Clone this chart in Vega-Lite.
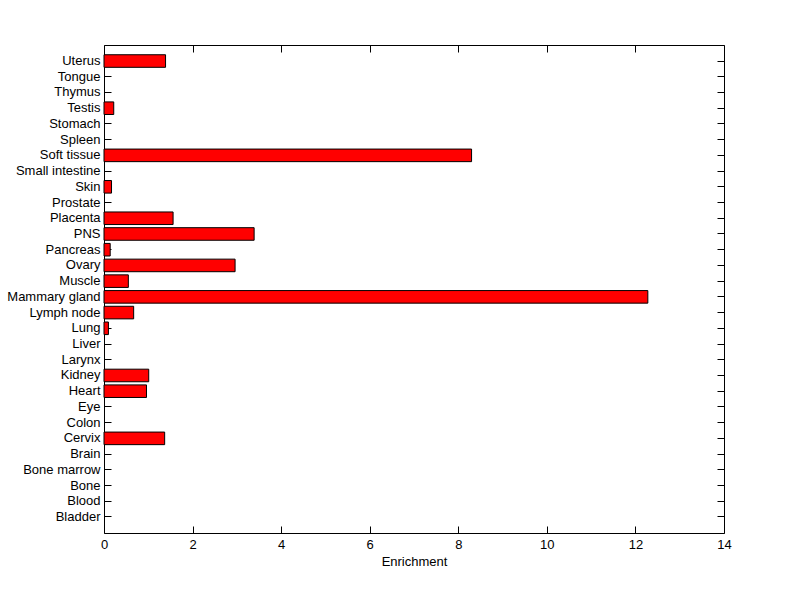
{
  "$schema": "https://vega.github.io/schema/vega-lite/v6.json",
  "autosize": {"type": "none"},
  "padding": {"left": 104, "top": 45, "right": 76, "bottom": 66},
  "width": 620,
  "height": 488,
  "background": "white",
  "config": {
    "view": {"stroke": "black", "strokeWidth": 1},
    "font": "Liberation Sans",
    "axis": {
      "domain": false,
      "grid": false,
      "tickColor": "black",
      "tickSize": -7,
      "labelColor": "black",
      "labelFont": "Liberation Sans",
      "labelFontSize": 13,
      "labelFlush": false,
      "titleFont": "Liberation Sans",
      "titleFontSize": 13,
      "titleFontWeight": "normal",
      "titleColor": "black"
    }
  },
  "data": {
    "values": [
      {"tissue": "Uterus", "value": 1.39},
      {"tissue": "Tongue", "value": 0},
      {"tissue": "Thymus", "value": 0},
      {"tissue": "Testis", "value": 0.22},
      {"tissue": "Stomach", "value": 0},
      {"tissue": "Spleen", "value": 0},
      {"tissue": "Soft tissue", "value": 8.30},
      {"tissue": "Small intestine", "value": 0},
      {"tissue": "Skin", "value": 0.17},
      {"tissue": "Prostate", "value": 0},
      {"tissue": "Placenta", "value": 1.56},
      {"tissue": "PNS", "value": 3.39},
      {"tissue": "Pancreas", "value": 0.14},
      {"tissue": "Ovary", "value": 2.96},
      {"tissue": "Muscle", "value": 0.55},
      {"tissue": "Mammary gland", "value": 12.28},
      {"tissue": "Lymph node", "value": 0.67},
      {"tissue": "Lung", "value": 0.10},
      {"tissue": "Liver", "value": 0},
      {"tissue": "Larynx", "value": 0},
      {"tissue": "Kidney", "value": 1.01},
      {"tissue": "Heart", "value": 0.96},
      {"tissue": "Eye", "value": 0},
      {"tissue": "Colon", "value": 0},
      {"tissue": "Cervix", "value": 1.37},
      {"tissue": "Brain", "value": 0},
      {"tissue": "Bone marrow", "value": 0},
      {"tissue": "Bone", "value": 0},
      {"tissue": "Blood", "value": 0},
      {"tissue": "Bladder", "value": 0}
    ]
  },
  "layer": [
    {
      "mark": {"type": "bar", "fill": "#ff0000", "stroke": "black", "strokeWidth": 1},
      "encoding": {
        "y": {
          "field": "tissue",
          "type": "nominal",
          "sort": null,
          "scale": {"paddingInner": 0.2, "paddingOuter": 0.62},
          "axis": {"orient": "left", "title": null, "labelPadding": 11}
        },
        "x": {
          "field": "value",
          "type": "quantitative",
          "scale": {"domain": [0, 14], "nice": false},
          "axis": {"orient": "bottom", "title": "Enrichment", "values": [0, 2, 4, 6, 8, 10, 12, 14], "labelPadding": 12, "titlePadding": 4}
        },
        "strokeOpacity": {"condition": {"test": "datum.value > 0", "value": 1}, "value": 0}
      }
    },
    {
      "mark": {"type": "point", "opacity": 0},
      "encoding": {
        "y": {
          "field": "tissue",
          "type": "nominal",
          "sort": null,
          "axis": {"orient": "right", "title": null, "labels": false}
        },
        "x": {
          "field": "value",
          "type": "quantitative",
          "axis": {"orient": "top", "title": null, "labels": false, "values": [0, 2, 4, 6, 8, 10, 12, 14]}
        }
      }
    }
  ],
  "resolve": {"axis": {"x": "independent", "y": "independent"}}
}
